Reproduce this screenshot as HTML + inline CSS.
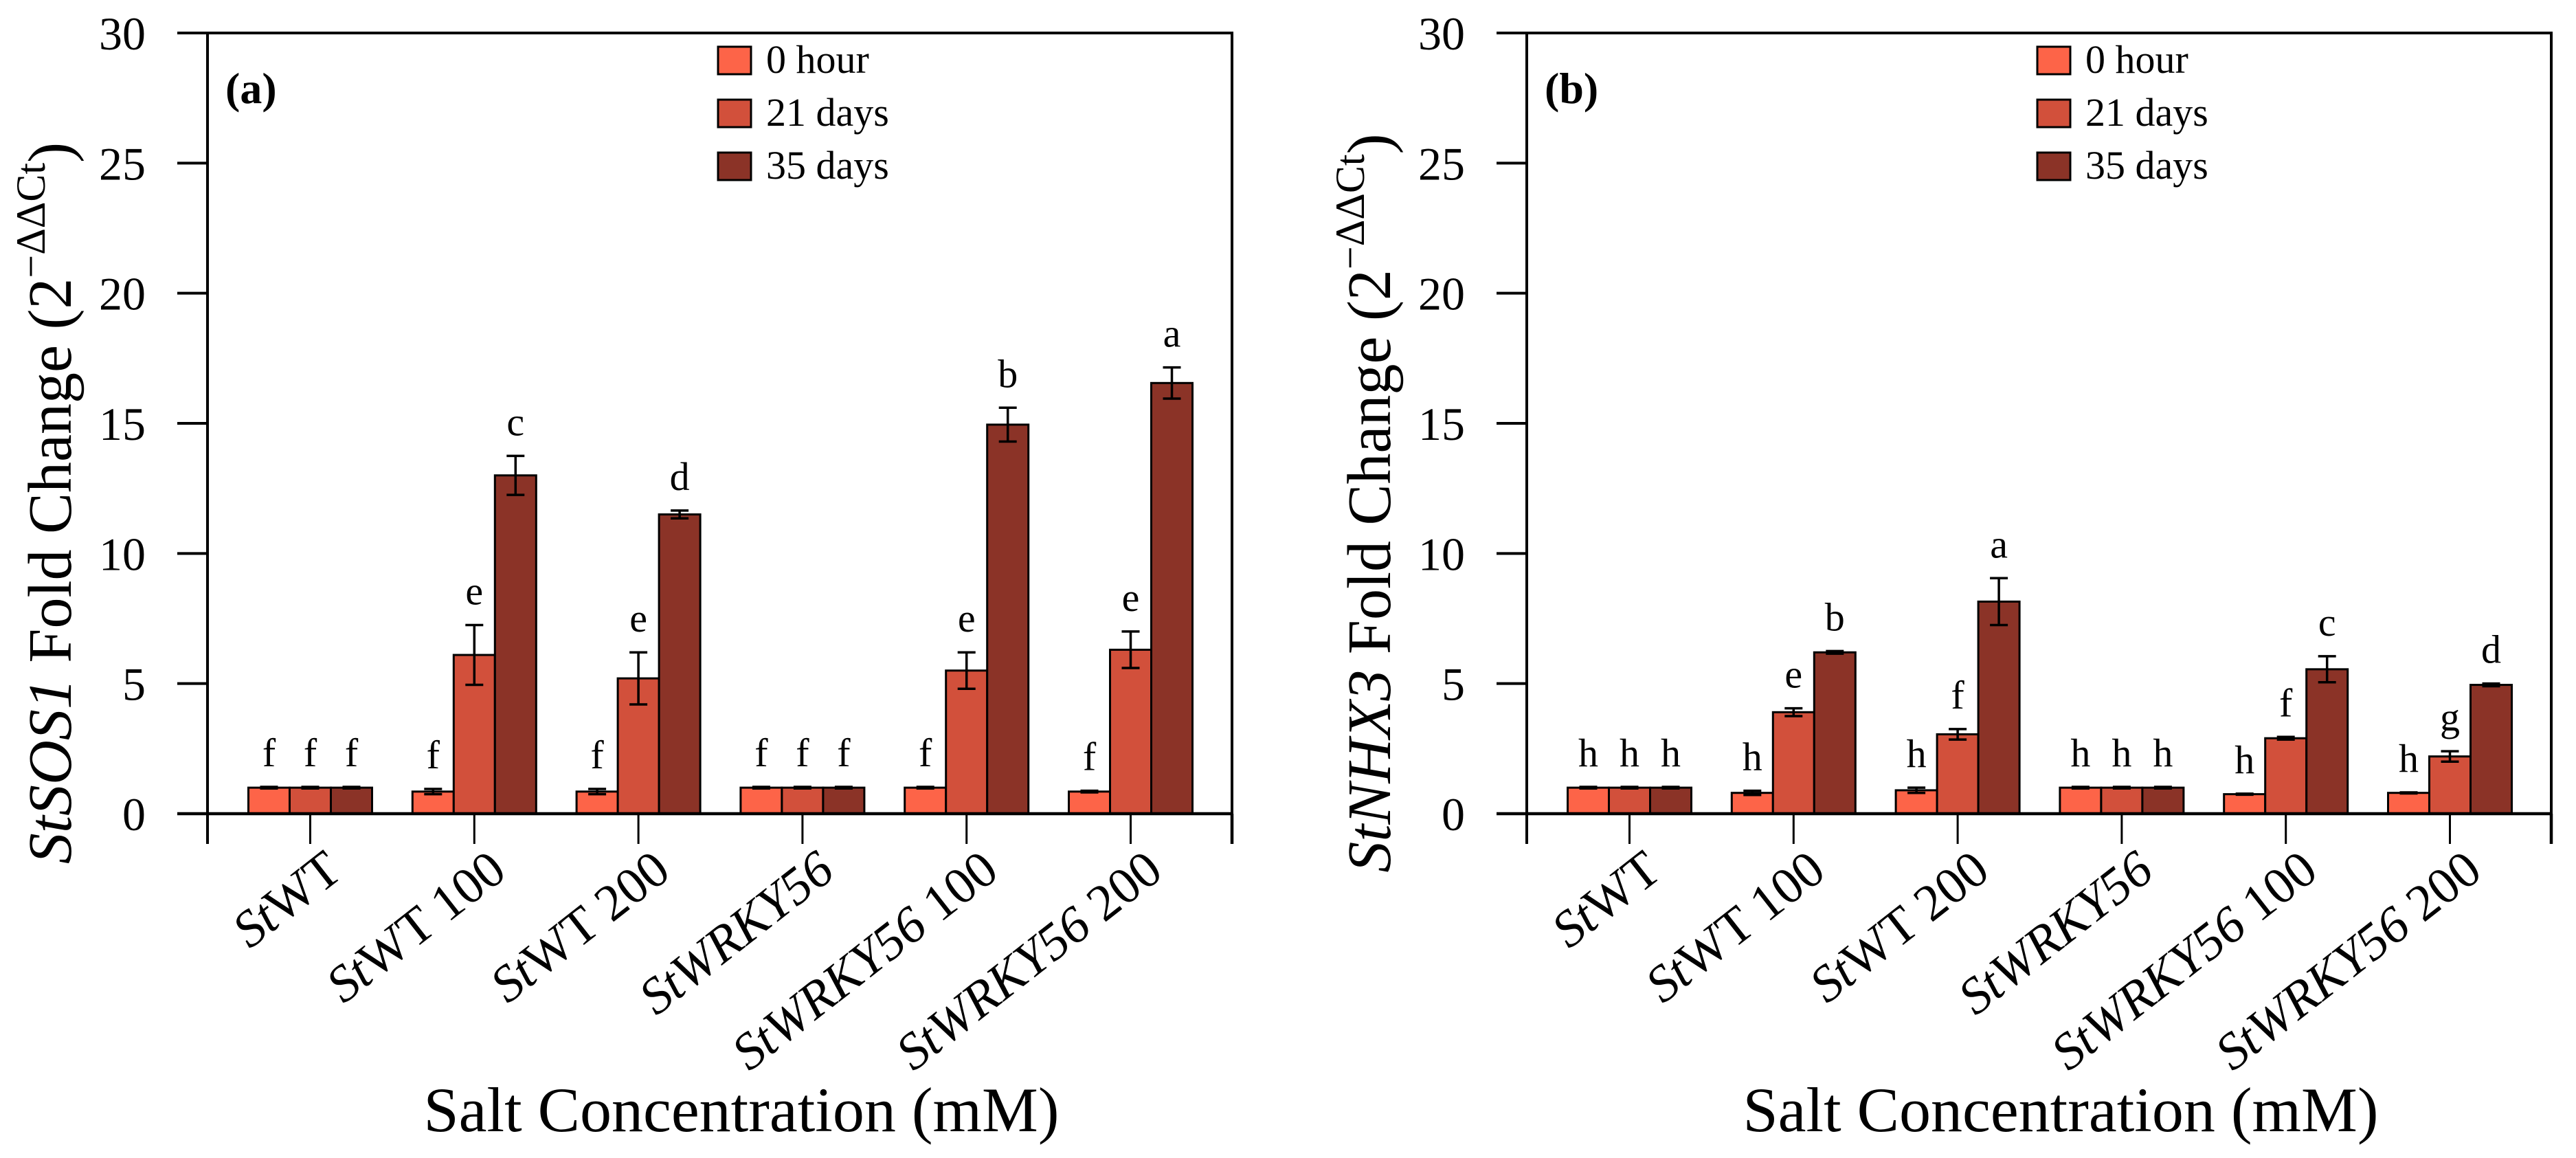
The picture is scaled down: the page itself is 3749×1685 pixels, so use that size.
<!DOCTYPE html>
<html><head><meta charset="utf-8">
<style>
html,body{margin:0;padding:0;background:#fff;}
svg{display:block;}
text{font-family:"Liberation Serif",serif;fill:#000;}
</style></head>
<body>
<svg id="fig" width="3749" height="1685" viewBox="0 0 3749 1685" xmlns="http://www.w3.org/2000/svg"></svg>
<script>
const categories = ["WT", "WT 100", "WT 200", "WRKY56", "WRKY56 100", "WRKY56 200"];
const seriesNames = ["0 hour", "21 days", "35 days"];
const yTicks = [0, 5, 10, 15, 20, 25, 30];

const sos1Hour0 = [1, 0.85, 0.85, 1, 1, 0.85];
const sos1Day21 = [1, 6.1, 5.2, 1, 5.5, 6.3];
const sos1Day35 = [1, 13.0, 11.5, 1, 14.95, 16.55];
const sos1ErrHour0 = [0.03, 0.1, 0.1, 0.03, 0.03, 0.03];
const sos1ErrDay21 = [0.03, 1.15, 1.0, 0.03, 0.7, 0.7];
const sos1ErrDay35 = [0.03, 0.75, 0.15, 0.03, 0.65, 0.6];
const sos1Letters = [["f","f","f"],["f","e","c"],["f","e","d"],["f","f","f"],["f","e","b"],["f","e","a"]];

const nhx3Hour0 = [1, 0.8, 0.9, 1, 0.75, 0.8];
const nhx3Day21 = [1, 3.9, 3.05, 1, 2.9, 2.2];
const nhx3Day35 = [1, 6.2, 8.15, 1, 5.55, 4.95];
const nhx3ErrHour0 = [0.03, 0.08, 0.1, 0.03, 0.02, 0.02];
const nhx3ErrDay21 = [0.03, 0.15, 0.2, 0.03, 0.05, 0.2];
const nhx3ErrDay35 = [0.03, 0.05, 0.9, 0.03, 0.5, 0.05];
const nhx3Letters = [["h","h","h"],["h","e","b"],["h","f","a"],["h","h","h"],["h","f","c"],["h","g","d"]];

const colors = ["#fd6448", "#d2503b", "#8b3327"];
const NS = "http://www.w3.org/2000/svg";
const svg = document.getElementById("fig");

function mk(tag, attrs, parent, txt) {
  const e = document.createElementNS(NS, tag);
  for (const k in attrs) e.setAttribute(k, attrs[k]);
  if (txt !== undefined) e.textContent = txt;
  (parent || svg).appendChild(e);
  return e;
}

function drawPanel(ox, tag, gene, vals, errs, letters) {
  const left = ox, right = ox + 1491, top = 48, bottom = 1184;
  const yScale = v => bottom - (v / 30) * (bottom - top);
  const groupW = 238.8;
  const xScale = i => left + 149.5 + i * groupW;
  const barW = 60;
  const g = mk("g", {});
  
  

  for (let s = 0; s < 3; s++) {
    for (let i = 0; i < categories.length; i++) {
      const v = vals[s][i], e = errs[s][i];
      const x0 = xScale(i) - 1.5 * barW + s * barW;
      const r = mk("rect", {x: x0, y: yScale(v), width: barW, height: yScale(0) - yScale(v), fill: colors[s], stroke: "#000", "stroke-width": 3}, g);
      
      
      const cx = x0 + barW / 2;
      const eb = mk("path", {d: `M${cx},${yScale(v+e)}V${yScale(v-e)}M${cx-13},${yScale(v+e)}H${cx+13}M${cx-13},${yScale(v-e)}H${cx+13}`, stroke: "#000", "stroke-width": 3.5, fill: "none"}, g);
      
      
      const lt = mk("text", {x: cx, y: yScale(v+e) - 30, "font-size": 58, "text-anchor": "middle"}, g, letters[i][s]);
      
      
    }
  }

  const fr = mk("path", {d: `M${left-44},${top}H${right}V${bottom}M${left},${top}V${bottom+44}`, stroke: "#000", "stroke-width": 4, fill: "none"}, g);
  
  
  const xa = mk("path", {d: `M${left-44},${bottom}H${right}M${right},${bottom}V${bottom+44}`, stroke: "#000", "stroke-width": 4.5, fill: "none"}, g);
  
  

  for (const t of yTicks) {
    const tk = mk("line", {x1: left - 44, x2: left, y1: yScale(t), y2: yScale(t), stroke: "#000", "stroke-width": 4}, g);
    
    
    const tl = mk("text", {x: left - 90, y: yScale(t) + 24, "font-size": 68, "text-anchor": "end"}, g, String(t));
    
    
  }
  for (let i = 0; i < categories.length; i++) {
    const cx = xScale(i);
    const tk = mk("line", {x1: cx, x2: cx, y1: bottom, y2: bottom + 44, stroke: "#000", "stroke-width": 3}, g);
    
    
    const lx = cx + 50, ly = 1274;
    const tl = mk("text", {x: lx, y: ly, "font-size": 75, "text-anchor": "end", transform: `rotate(-38 ${lx} ${ly})`}, g);
    
    
    const c = categories[i];
    if (c.startsWith("WRKY")) {
      mk("tspan", {"font-style": "italic"}, tl, "St" + c.split(" ")[0]);
      if (c.includes(" ")) mk("tspan", {}, tl, " " + c.split(" ")[1]);
    } else {
      mk("tspan", {"font-style": "italic"}, tl, "St");
      mk("tspan", {}, tl, c);
    }
  }

  const pt = mk("text", {x: left + 26, y: 150, "font-size": 64, "font-weight": "bold"}, g, "(" + tag + ")");
  
  

  for (let s = 0; s < 3; s++) {
    const ly = 68 + s * 77;
    const sw = mk("rect", {x: left + 743, y: ly, width: 48, height: 40, fill: colors[s], stroke: "#000", "stroke-width": 3}, g);
    
    
    const lt = mk("text", {x: left + 813, y: ly + 38, "font-size": 58}, g, seriesNames[s]);
    
    
  }

  const ty = 732, tx = left - 199;
  const yt = mk("text", {x: tx, y: ty, "font-size": 90, "text-anchor": "middle", transform: `rotate(-90 ${tx} ${ty})`}, g);
  
  
  mk("tspan", {"font-style": "italic"}, yt, gene);
  mk("tspan", {}, yt, " Fold Change (2");
  mk("tspan", {"font-size": 60, dy: -38}, yt, "\u2212\u0394\u0394Ct");
  mk("tspan", {dy: 38}, yt, ")");

  const xt = mk("text", {x: left + 777, y: 1646, "font-size": 92, "text-anchor": "middle"}, g, "Salt Concentration (mM)");
  
  
}

drawPanel(302, "a", "StSOS1", [sos1Hour0, sos1Day21, sos1Day35], [sos1ErrHour0, sos1ErrDay21, sos1ErrDay35], sos1Letters);
drawPanel(2222, "b", "StNHX3", [nhx3Hour0, nhx3Day21, nhx3Day35], [nhx3ErrHour0, nhx3ErrDay21, nhx3ErrDay35], nhx3Letters);
</script>
</body></html>
